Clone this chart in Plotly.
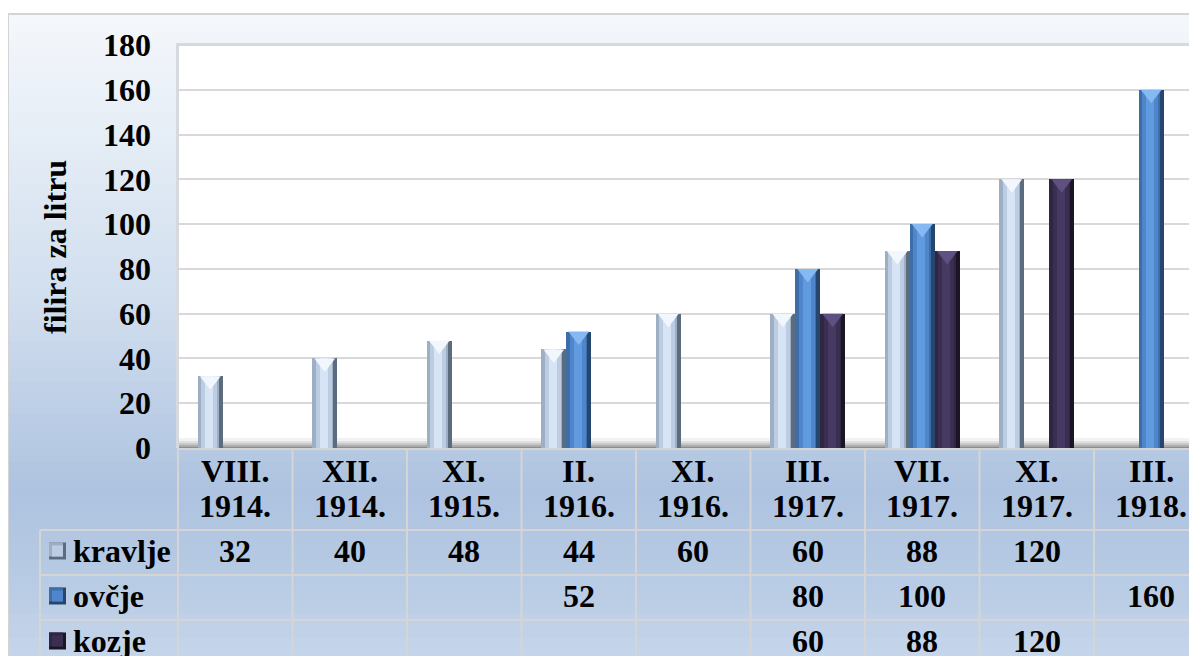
import plotly.graph_objects as go

# ---------------- data ----------------
categories = ["VIII. 1914.", "XII. 1914.", "XI. 1915.", "II. 1916.", "XI. 1916.",
              "III. 1917.", "VII. 1917.", "XI. 1917.", "III. 1918."]
series_names = ["kravlje", "ovčje", "kozje"]
kravlje = [32, 40, 48, 44, 60, 60, 88, 120, None]
ovcje = [None, None, None, 52, None, 80, 100, None, 160]
kozje = [None, None, None, None, None, 60, 88, 120, None]
y_title = "filira za litru"
y_ticks = [0, 20, 40, 60, 80, 100, 120, 140, 160, 180]

# ---------------- geometry helpers (window pixel -> paper) ----------------
OFF = 8  # default page body margin
W_FIG, H_FIG = 1197 - OFF, 656 - OFF
L, T, R = 178 - OFF, 45 - OFF, 0
B = H_FIG - (448 - OFF)
PW, PH = W_FIG - L - R, H_FIG - T - B
Y_MAX = 180


def px(xw):
    return (xw - OFF - L) / PW


def py(yw):
    return (H_FIG - B - (yw - OFF)) / PH


FONT = "Liberation Serif, Times New Roman, serif"
FS = 32

fig = go.Figure()

# ---------------- bars (bevel look via overlaid strips) ----------------
BW = 0.218
series_vals = [kravlje, ovcje, kozje]
series_offsets = [-1.5 * BW, -0.5 * BW, 0.5 * BW]
series_colors = [
    ["#5d6b7e", "#9fafc3", "#bccde3", "#d6e4f6"],
    ["#24466f", "#3d6ea8", "#4f86cb", "#609be0"],
    ["#1b1526", "#2f2642", "#3b2f51", "#463a62"],
]
top_colors = ["#f2f7fd", "#86b8f2", "#5e5080"]
strips = [(0.0, 1.0), (0.0, 0.84), (0.14, 0.78), (0.30, 0.62)]
idx = list(range(len(categories)))

for name, vals, off, cols in zip(series_names, series_vals, series_offsets, series_colors):
    for (f0, f1), c in zip(strips, cols):
        fig.add_trace(go.Bar(
            x=idx, y=vals, offset=off + f0 * BW, width=(f1 - f0) * BW,
            marker=dict(color=c, line=dict(width=0)), opacity=1,
            name=name, showlegend=False,
            hoverinfo="skip" if (f0, f1) != (0.0, 1.0) else "y+name",
        ))

# top bevel highlight (triangle-down marker just under each bar top)
MS = 18
shift = (MS / 4) * Y_MAX / PH  # half of the top part of the triangle, in data units
for name, vals, off, tc in zip(series_names, series_vals, series_offsets, top_colors):
    xs = [i + off + BW / 2 for i, v in enumerate(vals) if v is not None]
    ys = [v - shift for v in vals if v is not None]
    fig.add_trace(go.Scatter(
        x=xs, y=ys, mode="markers", showlegend=False, hoverinfo="skip",
        marker=dict(symbol="triangle-down", size=MS, color=tc, line=dict(width=0)),
        cliponaxis=False,
    ))

# ---------------- background shapes ----------------
shapes = []
stops = [(14, (244, 247, 251)), (150, (228, 236, 245)), (300, (209, 222, 238)),
         (420, (187, 205, 229)), (490, (174, 195, 224)), (560, (181, 201, 227)),
         (656, (197, 213, 234))]


def grad_color(yw):
    for (y0, c0), (y1, c1) in zip(stops[:-1], stops[1:]):
        if y0 <= yw <= y1:
            t = (yw - y0) / (y1 - y0)
            return "rgb(%d,%d,%d)" % tuple(round(a + (b - a) * t) for a, b in zip(c0, c1))
    return "rgb(%d,%d,%d)" % stops[-1][1]


step = 8
y = 14
while y < 656:
    y2 = min(y + step, 656)
    shapes.append(dict(type="rect", xref="paper", yref="paper", layer="below",
                       x0=px(7), x1=px(1200), y0=py(y2 + 0.5), y1=py(y),
                       fillcolor=grad_color((y + y2) / 2), line=dict(width=0)))
    y = y2

# chart frame
shapes.append(dict(type="rect", xref="paper", yref="paper", layer="below",
                   x0=px(8), x1=px(1205), y0=py(665), y1=py(14),
                   fillcolor="rgba(0,0,0,0)", line=dict(color="#d4d4d4", width=2)))
# plot area white + shadow
shapes.append(dict(type="rect", xref="paper", yref="paper", layer="below",
                   x0=px(176), x1=px(1200), y0=py(448), y1=py(43),
                   fillcolor="#d6d9de", line=dict(width=0)))
shapes.append(dict(type="rect", xref="paper", yref="paper", layer="below",
                   x0=px(179), x1=px(1200), y0=py(448), y1=py(46),
                   fillcolor="white", line=dict(width=0)))
# floor band
floor = [(438, "#f2f2f2"), (441, "#e0e0e0"), (443, "#c8c8c8"), (445, "#acacac"), (447, "#8c8c8c")]
for i, (yy, c) in enumerate(floor):
    y_next = floor[i + 1][0] if i + 1 < len(floor) else 449
    shapes.append(dict(type="rect", xref="paper", yref="paper", layer="below",
                       x0=px(179), x1=px(1200), y0=py(y_next), y1=py(yy),
                       fillcolor=c, line=dict(width=0)))

# table grid lines
LC = "#d5d5d5"
LW = 2
for yy in [530, 575, 620]:
    shapes.append(dict(type="line", xref="paper", yref="paper", x0=px(40), x1=px(1200),
                       y0=py(yy), y1=py(yy), line=dict(color=LC, width=LW)))
shapes.append(dict(type="line", xref="paper", yref="paper", x0=px(178), x1=px(1200),
                   y0=py(449), y1=py(449), line=dict(color=LC, width=LW)))
shapes.append(dict(type="line", xref="paper", yref="paper", x0=px(40), x1=px(40),
                   y0=py(530), y1=py(665), line=dict(color=LC, width=LW)))
shapes.append(dict(type="line", xref="paper", yref="paper", x0=px(178), x1=px(178),
                   y0=py(448), y1=py(665), line=dict(color=LC, width=LW)))
for i in idx[:-1]:
    shapes.append(dict(type="line", xref="x", yref="paper", x0=i + 0.5, x1=i + 0.5,
                       y0=py(448), y1=py(665), line=dict(color=LC, width=LW)))

# legend keys in table
key_rows = [551, 596, 641]
for cols, yc in zip(series_colors, key_rows):
    shapes.append(dict(type="rect", xref="paper", yref="paper",
                       x0=px(49), x1=px(66), y0=py(yc + 8.5), y1=py(yc - 8.5),
                       fillcolor=cols[0], line=dict(width=0)))
    shapes.append(dict(type="rect", xref="paper", yref="paper",
                       x0=px(49), x1=px(63), y0=py(yc + 5.5), y1=py(yc - 8.5),
                       fillcolor=cols[1], line=dict(width=0)))
    shapes.append(dict(type="rect", xref="paper", yref="paper",
                       x0=px(52), x1=px(63), y0=py(yc + 5.5), y1=py(yc - 5.5),
                       fillcolor=cols[2], line=dict(width=0)))

# ---------------- annotations (table text + axis title) ----------------
ann = []
bold = dict(family=FONT, size=FS, color="black", weight="bold")
for i, cat in enumerate(categories):
    m, yr = cat.split(" ")
    ann.append(dict(x=i, y=py(471), xref="x", yref="paper", text=m, showarrow=False,
                    font=bold, xanchor="center", yanchor="middle"))
    ann.append(dict(x=i, y=py(506), xref="x", yref="paper", text=yr, showarrow=False,
                    font=bold, xanchor="center", yanchor="middle"))

for name, vals, yc in zip(series_names, series_vals, key_rows):
    ann.append(dict(x=px(71), y=py(yc), xref="paper", yref="paper", text=name, showarrow=False,
                    font=bold, xanchor="left", yanchor="middle"))
    for i, v in enumerate(vals):
        if v is not None:
            ann.append(dict(x=i, y=py(yc), xref="x", yref="paper", text=str(v), showarrow=False,
                            font=bold, xanchor="center", yanchor="middle"))

ann.append(dict(x=px(55), y=py(247), xref="paper", yref="paper", text=y_title, showarrow=False,
                textangle=-90, font=bold, xanchor="center", yanchor="middle"))

fig.update_layout(
    width=W_FIG, height=H_FIG,
    margin=dict(l=L, r=R, t=T, b=B, pad=0),
    paper_bgcolor="white", plot_bgcolor="white",
    barmode="overlay", bargap=0,
    showlegend=False,
    shapes=shapes, annotations=ann,
    xaxis=dict(range=[-0.5, 8.5 - 11.5 / 114.5], showticklabels=False, showgrid=False,
               zeroline=False, showline=False, ticks="", fixedrange=True),
    yaxis=dict(range=[0, Y_MAX], tickvals=y_ticks, showgrid=True, gridcolor="#d9d9d9", gridwidth=2,
               zeroline=False, showline=False, ticks="", ticklabelstandoff=26,
               tickfont=dict(family=FONT, size=FS, color="black", weight="bold")),
)

fig.write_html("out.html")
